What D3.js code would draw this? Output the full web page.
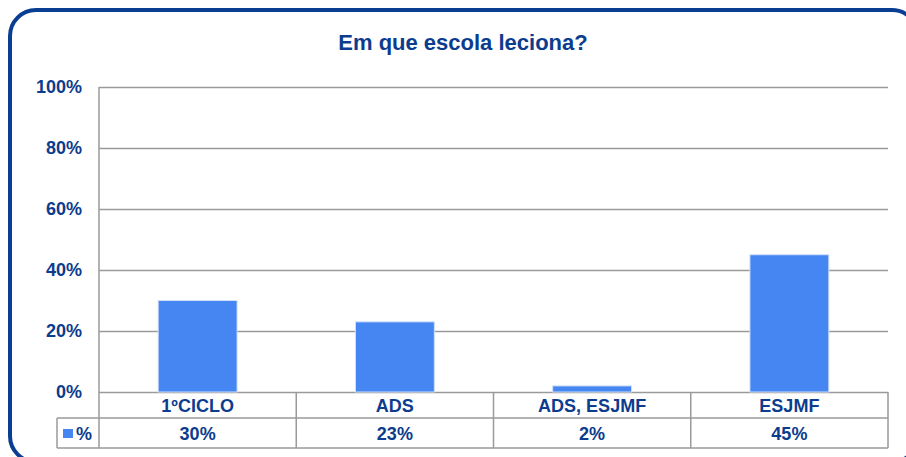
<!DOCTYPE html>
<html>
<head>
<meta charset="utf-8">
<script src="https://cdn.jsdelivr.net/npm/d3@7"></script>
<style>
  body { margin: 0; background: #fff; }
  text { font-family: "Liberation Sans", Arial, sans-serif; font-weight: bold; fill: #0c3c8e; }
</style>
</head>
<body>
<div id="chart"></div>
<script>
// chart data
var categories = ["1ºCICLO", "ADS", "ADS, ESJMF", "ESJMF"];
var seriesName = "%";
var values = [30, 23, 2, 45];
var tickValues = [0, 20, 40, 60, 80, 100];
var title = "Em que escola leciona?";

var width = 906, height = 457;
var margin = { left: 99, right: 18, top: 87 };
var plotBottom = 392;
var rowHeight = [26, 30];
var fontSize = 18;

var svg = d3.select("#chart").append("svg")
    .attr("width", width)
    .attr("height", height);

// rounded frame
svg.append("rect")
    .attr("x", 10).attr("y", 10)
    .attr("width", 908).attr("height", 452)
    .attr("rx", 26).attr("ry", 26)
    .attr("fill", "none")
    .attr("stroke", "#0a3e93")
    .attr("stroke-width", 4);

svg.append("text")
    .attr("x", 463).attr("y", 50)
    .attr("text-anchor", "middle")
    .attr("font-size", 22)
    .text(title);

var x = d3.scaleBand()
    .domain(categories)
    .range([margin.left, width - margin.right])
    .paddingInner(0.6)
    .paddingOuter(0.3);

var xCol = d3.scaleBand()
    .domain(categories)
    .range([margin.left, width - margin.right]);

var y = d3.scaleLinear()
    .domain([0, 100])
    .range([plotBottom, margin.top]);

// gridlines
svg.append("g").selectAll("line")
    .data(tickValues)
    .enter()
    .append("line")
    .attr("x1", margin.left)
    .attr("x2", width - margin.right)
    .attr("y1", function (d) { return Math.round(y(d)) + 0.5; })
    .attr("y2", function (d) { return Math.round(y(d)) + 0.5; })
    .attr("stroke", "#9a9a9a")
    .attr("stroke-width", 1.5);

// y axis labels
var yAxis = d3.axisLeft(y)
    .tickValues(tickValues)
    .tickSize(0)
    .tickPadding(17)
    .tickFormat(function (d) { return d + "%"; });
var yg = svg.append("g")
    .attr("transform", "translate(" + margin.left + ",0)")
    .call(yAxis);
yg.select(".domain").remove();
yg.selectAll("text")
    .attr("font-size", fontSize)
    .attr("font-family", null)
    .attr("fill", null);

// bars
svg.append("g").selectAll("rect")
    .data(values)
    .enter()
    .append("rect")
    .attr("x", function (d, i) { return x(categories[i]); })
    .attr("y", function (d) { return y(d); })
    .attr("width", x.bandwidth())
    .attr("height", function (d) { return plotBottom - y(d); })
    .attr("fill", "#4586f3")
    .attr("stroke", "#cfe0fb")
    .attr("stroke-width", 1);

// data table
var tableTop = plotBottom;
var row2Top = tableTop + rowHeight[0];
var tableBottom = row2Top + rowHeight[1];
var legendLeft = 57;
var table = svg.append("g")
    .attr("stroke", "#9a9a9a")
    .attr("stroke-width", 1.5)
    .attr("fill", "none");

table.append("line")
    .attr("x1", margin.left).attr("x2", margin.left)
    .attr("y1", margin.top).attr("y2", tableBottom);
table.append("line")
    .attr("x1", legendLeft).attr("x2", width - margin.right)
    .attr("y1", row2Top).attr("y2", row2Top);
table.append("line")
    .attr("x1", legendLeft).attr("x2", width - margin.right)
    .attr("y1", tableBottom).attr("y2", tableBottom);
table.append("line")
    .attr("x1", legendLeft).attr("x2", legendLeft)
    .attr("y1", row2Top).attr("y2", tableBottom);
table.selectAll(".col")
    .data(categories)
    .enter()
    .append("line")
    .attr("x1", function (d) { return xCol(d) + xCol.bandwidth(); })
    .attr("x2", function (d) { return xCol(d) + xCol.bandwidth(); })
    .attr("y1", tableTop)
    .attr("y2", tableBottom);

svg.append("g").selectAll("text")
    .data(categories)
    .enter()
    .append("text")
    .attr("x", function (d) { return xCol(d) + xCol.bandwidth() / 2; })
    .attr("y", tableTop + 20)
    .attr("text-anchor", "middle")
    .attr("font-size", fontSize)
    .text(function (d) { return d; });

svg.append("g").selectAll("text")
    .data(values)
    .enter()
    .append("text")
    .attr("x", function (d, i) { return xCol(categories[i]) + xCol.bandwidth() / 2; })
    .attr("y", row2Top + 22)
    .attr("text-anchor", "middle")
    .attr("font-size", fontSize)
    .text(function (d) { return d + "%"; });

// legend key
svg.append("rect")
    .attr("x", 63).attr("y", row2Top + 11)
    .attr("width", 10).attr("height", 9)
    .attr("fill", "#4586f3");
svg.append("text")
    .attr("x", 76).attr("y", row2Top + 22)
    .attr("font-size", fontSize)
    .text(seriesName);
</script>
</body>
</html>
